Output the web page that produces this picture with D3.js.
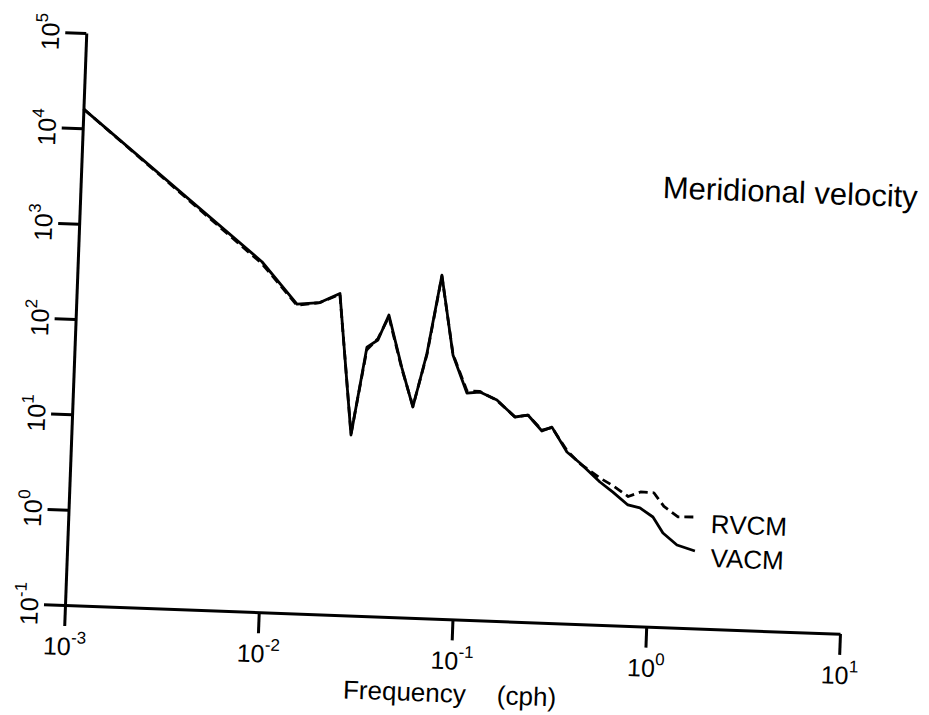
<!DOCTYPE html>
<html>
<head>
<meta charset="utf-8">
<script src="https://cdn.jsdelivr.net/npm/d3@7"></script>
<style>
  html, body { margin: 0; padding: 0; background: #fff; }
  svg { display: block; }
  text { font-family: "Liberation Sans", Arial, Helvetica, sans-serif; fill: #000; }
</style>
</head>
<body>
<svg id="chart" width="929" height="715"></svg>
<script>
// ---- data ----
const frequency = [0.001, 0.0089, 0.01374, 0.01803, 0.02278, 0.02763, 0.03214, 0.0365, 0.04112,
  0.04913, 0.0569, 0.0657, 0.0758, 0.0895, 0.1074, 0.1253, 0.1538, 0.1919, 0.2237, 0.266,
  0.299, 0.3613, 0.4236, 0.5417, 0.6346, 0.7625, 0.8805, 1.032, 1.17, 1.389, 1.724];
const vacm = [16000, 470, 175, 185, 235, 7.8, 66, 79, 146,
  41, 16.2, 60, 400, 59, 23.8, 24.7, 20.7, 13.95, 14.8, 10.2,
  11.3, 6.28, 4.88, 3.14, 2.49, 1.85, 1.74, 1.415, 0.971, 0.736, 0.647];
const rvcm = [16000, 450, 170, 185, 230, 8, 62, 82, 140,
  40, 16.5, 58, 390, 60, 25, 25, 20.5, 14, 14.8, 10.4,
  11.2, 6.5, 4.8, 3.45, 2.9, 2.27, 2.56, 2.54, 1.85, 1.45, 1.47];
const xTickExps = [-3, -2, -1, 0, 1];
const yTickExps = [-1, 0, 1, 2, 3, 4, 5];
const xTitle = "Frequency";
const xUnit = "(cph)";
const chartTitle = "Meridional velocity";
const seriesNames = ["RVCM", "VACM"];

// ---- layout ----
const svg = d3.select("#chart");
const W = 775.5, H = 572.4;
const g = svg.append("g").attr("transform", "translate(65,605) rotate(2.13)");

const x = d3.scaleLog().domain([1e-3, 1e1]).range([0, W]);
const y = d3.scaleLog().domain([1e-1, 1e5]).range([0, -H]);

// axes
const xAxis = d3.axisBottom(x).tickValues(xTickExps.map(e => Math.pow(10, e)))
  .tickSize(21).tickSizeOuter(0).tickFormat("");
const yAxis = d3.axisLeft(y).tickValues(yTickExps.map(e => Math.pow(10, e)))
  .tickSize(21).tickSizeOuter(0).tickFormat("");

const gx = g.append("g").call(xAxis);
const gy = g.append("g").call(yAxis);
[gx, gy].forEach(a => {
  a.select(".domain").attr("stroke", "#000").attr("stroke-width", 3);
  a.selectAll(".tick line").attr("stroke", "#000").attr("stroke-width", 3);
});

// x tick labels
xTickExps.forEach(e => {
  const t = g.append("text")
    .attr("x", x(Math.pow(10, e)) + 1)
    .attr("y", 50)
    .attr("text-anchor", "middle")
    .style("font-size", "25px");
  t.append("tspan").text("10");
  t.append("tspan").attr("dy", -12).style("font-size", "17px").text(String(e));
});

// y tick labels (rotated)
yTickExps.forEach(e => {
  const t = g.append("text")
    .attr("transform", `translate(-27,${y(Math.pow(10, e))}) rotate(-90)`)
    .attr("text-anchor", "middle")
    .style("font-size", "25px");
  t.append("tspan").text("10");
  t.append("tspan").attr("dy", -12).style("font-size", "17px").text(String(e));
});

// lines
const line = d3.line().x(d => x(d[0])).y(d => y(d[1]));
g.append("path")
  .datum(frequency.map((f, i) => [f, rvcm[i]]))
  .attr("d", line)
  .attr("fill", "none").attr("stroke", "#000").attr("stroke-width", 2.8)
  .attr("stroke-dasharray", "9,5").attr("stroke-linejoin", "round");
g.append("path")
  .datum(frequency.map((f, i) => [f, vacm[i]]))
  .attr("d", line)
  .attr("fill", "none").attr("stroke", "#000").attr("stroke-width", 2.8)
  .attr("stroke-linejoin", "round");

// series labels
const lastF = frequency[frequency.length - 1];
g.append("text").attr("x", x(lastF) + 15).attr("y", -96)
  .style("font-size", "26px").text(seriesNames[0]);
g.append("text").attr("x", x(lastF) + 16).attr("y", -62)
  .style("font-size", "26px").text(seriesNames[1]);

// titles
g.append("text").attr("x", 582).attr("y", -429)
  .style("font-size", "31px").text(chartTitle);
g.append("text").attr("x", 281).attr("y", 83)
  .style("font-size", "26px").text(xTitle);
g.append("text").attr("x", 435).attr("y", 83)
  .style("font-size", "26px").text(xUnit);
</script>
</body>
</html>
